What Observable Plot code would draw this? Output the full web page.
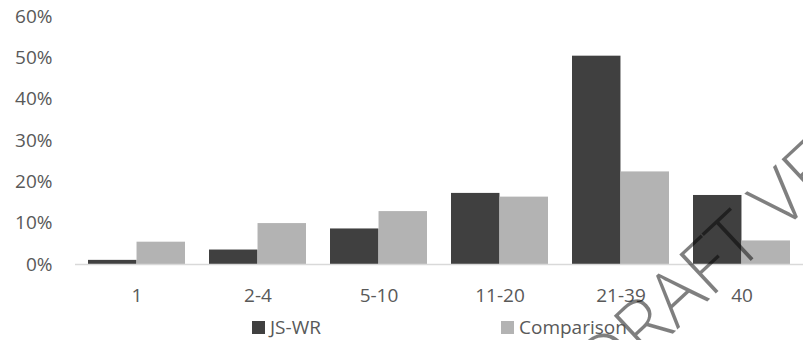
<!DOCTYPE html>
<html>
<head>
<meta charset="utf-8">
<script src="https://cdn.jsdelivr.net/npm/d3@7"></script>
<script src="https://cdn.jsdelivr.net/npm/@observablehq/plot@0.6"></script>
<style>
  html, body { margin: 0; padding: 0; background: #fff; }
  #wrap { position: relative; width: 803px; height: 340px; overflow: hidden; }
  .leg { position: absolute; top: 314px; font-family: "Open Sans", sans-serif; font-size: 19px; color: #595959; display: flex; align-items: center; white-space: nowrap; }
  .sw { width: 13px; height: 13px; display: inline-block; margin-right: 5px; }
</style>
</head>
<body>
<div id="wrap"></div>
<script>
const categories = ["1", "2-4", "5-10", "11-20", "21-39", "40"];
const seriesNames = ["JS-WR", "Comparison"];
const jswr = [1.0, 3.5, 8.6, 17.2, 50.4, 16.7];
const comparison = [5.4, 9.9, 12.8, 16.3, 22.4, 5.7];
const yTicks = [0, 10, 20, 30, 40, 50, 60];
const colors = ["#404040", "#b3b3b3"];

const data = [];
categories.forEach((c, i) => {
  data.push({cat: c, series: seriesNames[0], value: jswr[i]});
  data.push({cat: c, series: seriesNames[1], value: comparison[i]});
});

const W = 803, H = 340, ML = 75, MR = 0, MT = 16, MB = 76;
const PI = 0.2, PO = 0.1;
const step = (W - ML - MR) / (categories.length - PI + 2 * PO);
const half = step * (1 - PI) / 2;

const plot = Plot.plot({
  width: W, height: H,
  marginLeft: ML, marginRight: MR, marginTop: MT, marginBottom: MB,
  style: {fontFamily: "'Open Sans', sans-serif", fontSize: "19px", color: "#595959", background: "transparent"},
  x: {domain: categories, paddingInner: PI, paddingOuter: PO, label: null, tickSize: 0, tickPadding: 24},
  y: {domain: [0, 60], ticks: yTicks, tickFormat: d => d + "%", label: null, tickSize: 0, tickPadding: 23},
  color: {domain: seriesNames, range: colors},
  marks: [
    Plot.barY(data.filter(d => d.series === seriesNames[0]), {x: "cat", y: "value", fill: colors[0], insetLeft: 0, insetRight: half}),
    Plot.barY(data.filter(d => d.series === seriesNames[1]), {x: "cat", y: "value", fill: colors[1], insetLeft: half, insetRight: 0}),
    Plot.ruleY([0], {stroke: "#d9d9d9", strokeWidth: 1.5})
  ]
});

const wrap = document.getElementById("wrap");
wrap.appendChild(plot);

// watermark
d3.select(plot).append("text")
  .attr("transform", "translate(606,396) rotate(-43)")
  .attr("text-anchor", "start")
  .attr("font-family", "'Open Sans', sans-serif")
  .attr("font-weight", 300)
  .attr("font-size", 75)
  .attr("fill", "#000")
  .attr("fill-opacity", 0.5)
  .text("DRAFT VERSION");

// legend
seriesNames.forEach((s, i) => {
  const d = document.createElement("div");
  d.className = "leg";
  d.style.left = (i === 0 ? 252 : 501) + "px";
  d.innerHTML = `<span class="sw" style="background:${colors[i]}"></span><span>${s}</span>`;
  wrap.appendChild(d);
});
</script>
</body>
</html>
